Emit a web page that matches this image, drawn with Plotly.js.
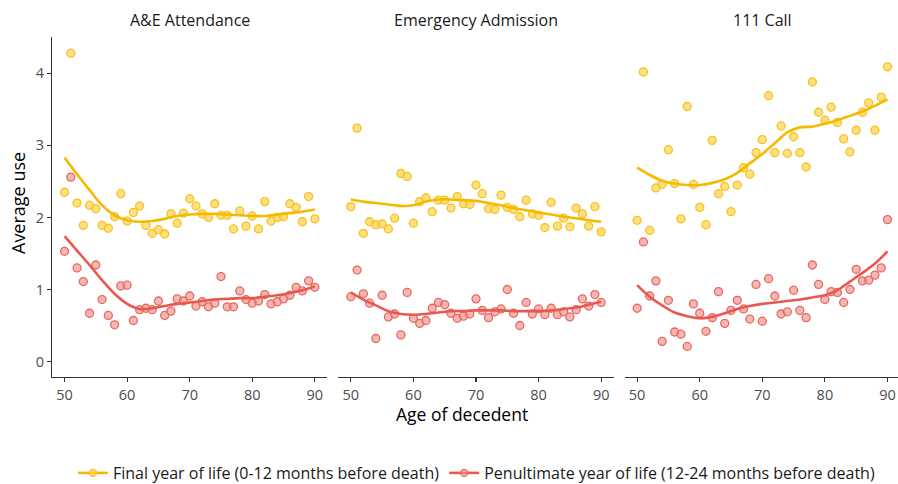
<!DOCTYPE html>
<html>
<head>
<meta charset="utf-8">
<script src="https://cdn.plot.ly/plotly-3.0.1.min.js"></script>
<style>
  html, body { margin: 0; padding: 0; overflow: hidden; background: #fff; }
  #chart { width: 900px; height: 484px; }
</style>
</head>
<body>
<div id="chart"></div>
<script>
// ---- Data ----
const panelTitles = ["A&E Attendance", "Emergency Admission", "111 Call"];
const seriesNames = ["Final year of life (0-12 months before death)", "Penultimate year of life (12-24 months before death)"];

const ages = [50,51,52,53,54,55,56,57,58,59,60,61,62,63,64,65,66,67,68,69,70,
              71,72,73,74,75,76,77,78,79,80,81,82,83,84,85,86,87,88,89,90];

const aeFinal = [2.35,4.28,2.20,1.89,2.17,2.12,1.89,1.85,2.01,2.33,1.95,2.07,2.16,1.89,1.78,1.83,1.77,2.05,1.92,2.06,2.26,
                 2.16,2.05,2.00,2.19,2.03,2.03,1.84,2.09,1.88,2.02,1.84,2.22,1.95,2.00,2.01,2.19,2.14,1.94,2.29,1.98];
const aePenult = [1.53,2.56,1.30,1.11,0.67,1.34,0.86,0.64,0.51,1.05,1.06,0.57,0.72,0.74,0.72,0.84,0.64,0.70,0.87,0.84,0.91,
                  0.77,0.83,0.76,0.81,1.18,0.76,0.76,0.98,0.86,0.81,0.84,0.93,0.80,0.83,0.87,0.92,1.03,0.98,1.12,1.03];

const eaFinal = [2.15,3.24,1.78,1.94,1.90,1.91,1.84,1.99,2.61,2.57,1.92,2.22,2.27,2.08,2.24,2.24,2.13,2.29,2.19,2.18,2.45,
                 2.33,2.12,2.11,2.31,2.14,2.11,2.01,2.24,2.05,2.03,1.86,2.21,1.88,1.99,1.87,2.13,2.05,1.88,2.15,1.80];
const eaPenult = [0.90,1.27,0.94,0.81,0.32,0.92,0.62,0.66,0.37,0.96,0.60,0.53,0.57,0.74,0.82,0.79,0.67,0.60,0.63,0.66,0.87,
                  0.71,0.61,0.69,0.73,1.00,0.67,0.50,0.82,0.66,0.73,0.65,0.74,0.65,0.69,0.62,0.72,0.87,0.77,0.93,0.82];

const callFinal = [1.96,4.02,1.82,2.41,2.46,2.94,2.47,1.98,3.54,2.46,2.14,1.90,3.07,2.33,2.43,2.08,2.45,2.69,2.60,2.90,3.08,
                   3.69,2.90,3.27,2.89,3.12,2.90,2.70,3.88,3.46,3.35,3.53,3.32,3.09,2.91,3.21,3.46,3.59,3.21,3.67,4.09];
const callPenult = [0.74,1.66,0.91,1.12,0.28,0.85,0.41,0.38,0.21,0.80,0.67,0.42,0.61,0.97,0.53,0.71,0.85,0.73,0.59,1.07,0.56,
                    1.15,0.91,0.66,0.69,0.99,0.71,0.61,1.34,1.07,0.86,0.97,0.96,0.82,1.00,1.28,1.12,1.13,1.20,1.30,1.97];

// Smoothed trend lines
const smoothAges = [50,52,54,56,58,60,62,64,66,68,70,72,74,76,78,80,82,84,86,88,90];
const aeFinalSmooth   = [2.83,2.60,2.38,2.17,2.03,1.96,1.94,1.95,1.98,2.02,2.04,2.05,2.05,2.04,2.03,2.02,2.02,2.04,2.06,2.08,2.11];
const aePenultSmooth  = [1.74,1.54,1.34,1.13,0.94,0.80,0.73,0.74,0.77,0.80,0.82,0.84,0.86,0.87,0.88,0.88,0.90,0.92,0.95,0.99,1.04];
const eaFinalSmooth   = [2.25,2.22,2.20,2.18,2.16,2.17,2.22,2.25,2.25,2.24,2.23,2.20,2.17,2.13,2.10,2.07,2.04,2.01,1.99,1.96,1.94];
const eaPenultSmooth  = [0.96,0.86,0.78,0.70,0.66,0.65,0.66,0.68,0.70,0.70,0.71,0.71,0.71,0.70,0.70,0.70,0.71,0.73,0.75,0.79,0.83];
const callFinalSmooth = [2.69,2.59,2.51,2.47,2.45,2.45,2.48,2.53,2.62,2.75,2.88,3.03,3.18,3.25,3.26,3.30,3.35,3.41,3.47,3.55,3.64];
const callPenultSmooth= [1.06,0.90,0.78,0.68,0.63,0.60,0.62,0.67,0.73,0.77,0.80,0.82,0.84,0.86,0.89,0.92,0.99,1.11,1.23,1.36,1.53];

const xTicks = [50,60,70,80,90];
const yTicks = [0,1,2,3,4];

// ---- Styles ----
const FONT = "Open Sans, Noto Sans, sans-serif";
const YEL_LINE = "#F5BA00", YEL_FILL = "rgba(252,210,80,0.7)", YEL_EDGE = "#F7C21C";
const RED_LINE = "#E8584E", RED_FILL = "rgba(240,145,138,0.65)", RED_EDGE = "#E8685F";

const panels = [
  {final: aeFinal, penult: aePenult, fs: aeFinalSmooth, ps: aePenultSmooth},
  {final: eaFinal, penult: eaPenult, fs: eaFinalSmooth, ps: eaPenultSmooth},
  {final: callFinal, penult: callPenult, fs: callFinalSmooth, ps: callPenultSmooth}
];

const traces = [];
panels.forEach((p, i) => {
  const xa = i === 0 ? "x" : "x" + (i + 1);
  const ya = i === 0 ? "y" : "y" + (i + 1);
  traces.push({x: ages, y: p.final, xaxis: xa, yaxis: ya, type: "scatter", mode: "markers",
    marker: {size: 8, color: YEL_FILL, line: {color: YEL_EDGE, width: 1.3}}, showlegend: false, hoverinfo: "x+y"});
  traces.push({x: ages, y: p.penult, xaxis: xa, yaxis: ya, type: "scatter", mode: "markers",
    marker: {size: 8, color: RED_FILL, line: {color: RED_EDGE, width: 1.3}}, showlegend: false, hoverinfo: "x+y"});
  traces.push({x: smoothAges, y: p.fs, xaxis: xa, yaxis: ya, type: "scatter", mode: "lines",
    line: {color: YEL_LINE, width: 2.6, shape: "spline", smoothing: 1}, showlegend: false, hoverinfo: "skip"});
  traces.push({x: smoothAges, y: p.ps, xaxis: xa, yaxis: ya, type: "scatter", mode: "lines",
    line: {color: RED_LINE, width: 2.6, shape: "spline", smoothing: 1}, showlegend: false, hoverinfo: "skip"});
});

// legend entries
traces.push({x: [null], y: [null], type: "scatter", mode: "lines+markers", name: seriesNames[0],
  line: {color: YEL_LINE, width: 2.6}, marker: {size: 7, color: YEL_FILL, line: {color: YEL_EDGE, width: 1.3}}});
traces.push({x: [null], y: [null], type: "scatter", mode: "lines+markers", name: seriesNames[1],
  line: {color: RED_LINE, width: 2.6}, marker: {size: 7, color: RED_FILL, line: {color: RED_EDGE, width: 1.3}}});

const plotW = 848;
const domains = [[0, 275.4 / plotW], [286.3 / plotW, 561.7 / plotW], [572.6 / plotW, 1]];
const yRange = [-0.2145, 4.5045];
const xRange = [48, 92];

function xAxis(dom, anchor) {
  return {domain: dom, anchor: anchor, range: xRange, tickvals: xTicks, ticktext: xTicks.map(String),
    showline: true, linecolor: "#333333", linewidth: 1.1, ticks: "outside", ticklen: 4, tickwidth: 1.1,
    tickcolor: "#333333", showgrid: false, zeroline: false, automargin: false,
    tickfont: {family: FONT, size: 14.5, color: "#4D4D4D"}, fixedrange: true};
}

const layout = {
  width: 900, height: 484,
  margin: {l: 52, r: 0, t: 37, b: 107},
  paper_bgcolor: "#FFFFFF", plot_bgcolor: "#FFFFFF",
  font: {family: FONT, color: "#1A1A1A"},
  xaxis: xAxis(domains[0], "y"),
  xaxis2: xAxis(domains[1], "y2"),
  xaxis3: xAxis(domains[2], "y3"),
  yaxis: {anchor: "x", range: yRange, tickvals: yTicks, ticktext: yTicks.map(String),
    showline: true, linecolor: "#333333", linewidth: 1.1, ticks: "outside", ticklen: 4, tickwidth: 1.1,
    tickcolor: "#333333", showgrid: false, zeroline: false, automargin: false,
    tickfont: {family: FONT, size: 14.5, color: "#4D4D4D"}, fixedrange: true},
  yaxis2: {anchor: "x2", range: yRange, visible: false, fixedrange: true},
  yaxis3: {anchor: "x3", range: yRange, visible: false, fixedrange: true},
  showlegend: true,
  legend: {orientation: "h", xref: "container", yref: "container", x: 73 / 900, xanchor: "left",
    y: (484 - 473) / 484, yanchor: "middle",
    font: {family: FONT, size: 16, color: "#1A1A1A"}, bgcolor: "rgba(0,0,0,0)", itemwidth: 30, tracegroupgap: 0},
  annotations: [
    ...panelTitles.map((t, i) => ({text: t, xref: "paper", yref: "paper",
      x: (domains[i][0] + domains[i][1]) / 2, y: 1 + 17 / 340, xanchor: "center", yanchor: "middle",
      showarrow: false, font: {family: FONT, size: 16, color: "#1A1A1A"}})),
    {text: "Age of decedent", xref: "paper", yref: "paper", x: (462 - 52) / plotW, y: -(414 - 377) / 340,
      xanchor: "center", yanchor: "middle", showarrow: false, font: {family: FONT, size: 17.5, color: "#000000"}},
    {text: "Average use", xref: "paper", yref: "paper", x: (18 - 52) / plotW, y: (377 - 203) / 340,
      xanchor: "center", yanchor: "middle", textangle: -90, showarrow: false,
      font: {family: FONT, size: 18, color: "#000000"}}
  ]
};

Plotly.newPlot("chart", traces, layout, {displayModeBar: false, staticPlot: true});
</script>
</body>
</html>
